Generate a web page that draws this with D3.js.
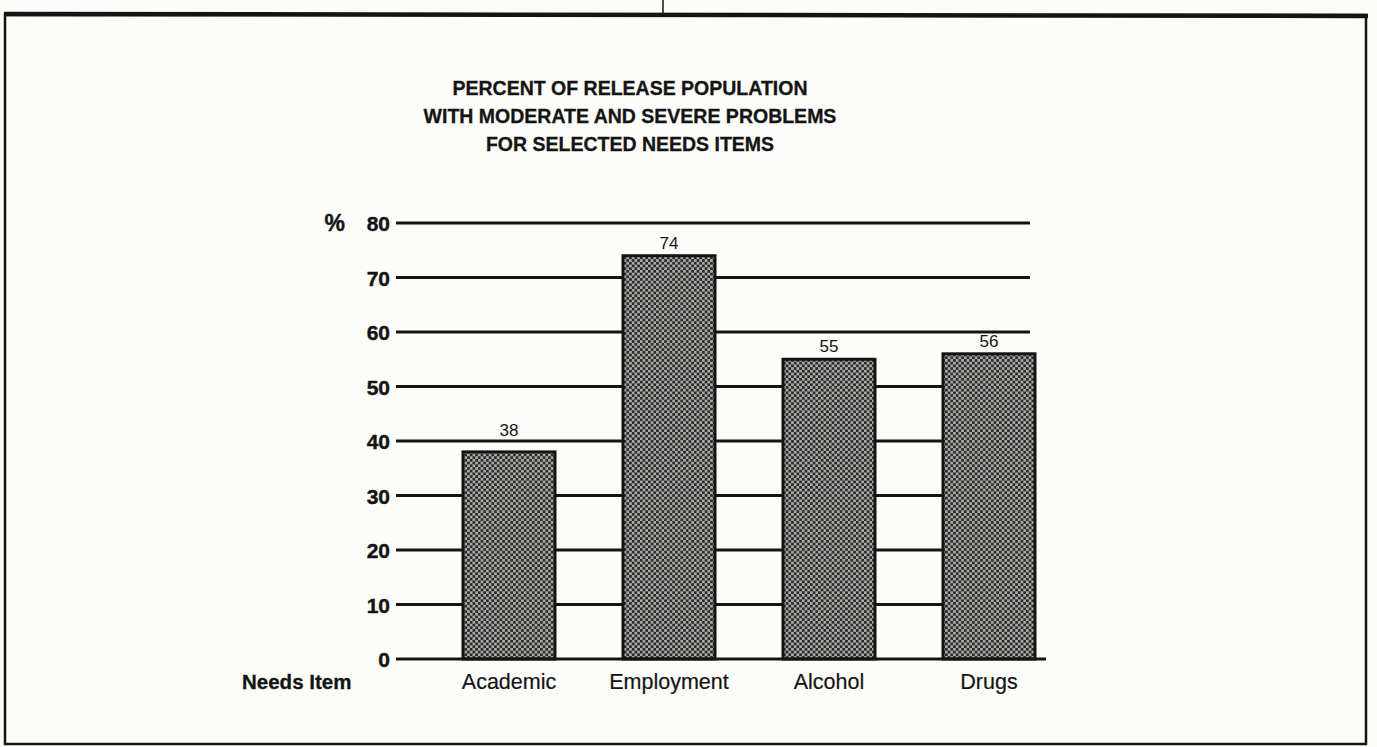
<!DOCTYPE html>
<html>
<head>
<meta charset="utf-8">
<script src="https://cdn.jsdelivr.net/npm/d3@7/dist/d3.min.js"></script>
<style>
  html, body { margin: 0; padding: 0; background: #fcfcf9; }
  svg { display: block; font-family: "Liberation Sans", Arial, Helvetica, sans-serif; }
</style>
</head>
<body>
<svg id="chart" width="1377" height="747"></svg>
<script>
// Needs items and the share of the release population with moderate/severe problems
const categories = ["Academic", "Employment", "Alcohol", "Drugs"];
const percents = [38, 74, 55, 56];
const yTicks = [0, 10, 20, 30, 40, 50, 60, 70, 80];
const titleLines = [
  "PERCENT OF RELEASE POPULATION",
  "WITH MODERATE AND SEVERE PROBLEMS",
  "FOR SELECTED NEEDS ITEMS"
];

const svg = d3.select("#chart");
const ink = "#141414";

// checkered dot screen used as bar fill
const defs = svg.append("defs");
const pat = defs.append("pattern")
  .attr("id", "screen")
  .attr("patternUnits", "userSpaceOnUse")
  .attr("width", 5.4).attr("height", 5.4);
pat.append("rect").attr("width", 5.4).attr("height", 5.4).attr("fill", "#aaaaa6");
pat.append("rect").attr("width", 2.7).attr("height", 2.7).attr("fill", "#2a2a2a");
pat.append("rect").attr("x", 2.7).attr("y", 2.7).attr("width", 2.7).attr("height", 2.7).attr("fill", "#2a2a2a");

// page frame
svg.append("rect")
  .attr("x", 5).attr("y", 15).attr("width", 1361).attr("height", 729)
  .attr("fill", "none").attr("stroke", ink).attr("stroke-width", 2.5);
svg.append("line")
  .attr("x1", 4).attr("y1", 14).attr("x2", 1368).attr("y2", 16)
  .attr("stroke", ink).attr("stroke-width", 4.5);
svg.append("line")
  .attr("x1", 663).attr("y1", 0).attr("x2", 663).attr("y2", 14)
  .attr("stroke", ink).attr("stroke-width", 1.5);

// scales
const y = d3.scaleLinear().domain([0, 80]).range([659, 223]);
const x = d3.scaleBand().domain(categories)
  .range([429, 1069]).paddingInner(0.425).paddingOuter(0.2125);

// title
svg.append("g").selectAll("text").data(titleLines).join("text")
  .attr("x", 630)
  .attr("y", (d, i) => 95 + i * 28)
  .attr("text-anchor", "middle")
  .attr("font-size", 19.5).attr("font-weight", "bold").attr("fill", ink)
  .attr("stroke", ink).attr("stroke-width", 0.3)
  .text(d => d);

// horizontal rules
const gridX0 = 396, gridX1 = 1030;
const rules = yTicks.filter(d => d > 0);
svg.append("g").selectAll("line").data(rules).join("line")
  .attr("x1", gridX0).attr("x2", gridX1)
  .attr("y1", d => y(d)).attr("y2", d => y(d))
  .attr("stroke", ink).attr("stroke-width", 3);

// tick labels via a left axis with no domain / tick lines
const yAxis = svg.append("g")
  .attr("transform", `translate(${gridX0 - 6},0)`)
  .call(d3.axisLeft(y).tickValues(yTicks).tickSize(0).tickPadding(0));
yAxis.select(".domain").remove();
yAxis.selectAll("text")
  .attr("font-family", "Liberation Sans, Arial, sans-serif")
  .attr("font-size", 21).attr("font-weight", "bold").attr("fill", ink)
  .attr("stroke", ink).attr("stroke-width", 0.4)
  .attr("dy", "0.36em");

svg.append("text")
  .attr("x", 345).attr("y", y(80)).attr("dy", "0.36em")
  .attr("text-anchor", "end")
  .attr("font-size", 23).attr("font-weight", "bold").attr("fill", ink)
  .attr("stroke", ink).attr("stroke-width", 0.4)
  .text("%");

// bars
svg.append("g").selectAll("rect").data(percents).join("rect")
  .attr("x", (d, i) => x(categories[i]))
  .attr("y", d => y(d))
  .attr("width", x.bandwidth())
  .attr("height", d => y(0) - y(d))
  .attr("fill", "url(#screen)")
  .attr("stroke", ink).attr("stroke-width", 3);

// baseline
svg.append("line")
  .attr("x1", gridX0).attr("x2", 1046)
  .attr("y1", y(0)).attr("y2", y(0))
  .attr("stroke", ink).attr("stroke-width", 3);

// value labels: sit just above the bar, but lift clear of any rule they would cross
const labelSize = 17;
function labelBaseline(v) {
  let base = y(v) - 7;
  const top = base - labelSize * 0.75;
  const hit = rules.map(y).find(ry => ry > top - 2 && ry < base + 3);
  if (hit !== undefined) base = hit - 5;
  return base;
}
svg.append("g").selectAll("text").data(percents).join("text")
  .attr("x", (d, i) => x(categories[i]) + x.bandwidth() / 2)
  .attr("y", d => labelBaseline(d))
  .attr("text-anchor", "middle")
  .attr("font-size", labelSize).attr("fill", ink)
  .text(d => d);

// category labels
svg.append("g").selectAll("text").data(categories).join("text")
  .attr("x", d => x(d) + x.bandwidth() / 2)
  .attr("y", 689)
  .attr("text-anchor", "middle")
  .attr("font-size", 21.5).attr("fill", ink)
  .attr("stroke", ink).attr("stroke-width", 0.2)
  .text(d => d);

svg.append("text")
  .attr("x", 242).attr("y", 689)
  .attr("font-size", 20.5).attr("font-weight", "bold").attr("fill", ink)
  .attr("stroke", ink).attr("stroke-width", 0.3)
  .text("Needs Item");
</script>
</body>
</html>
